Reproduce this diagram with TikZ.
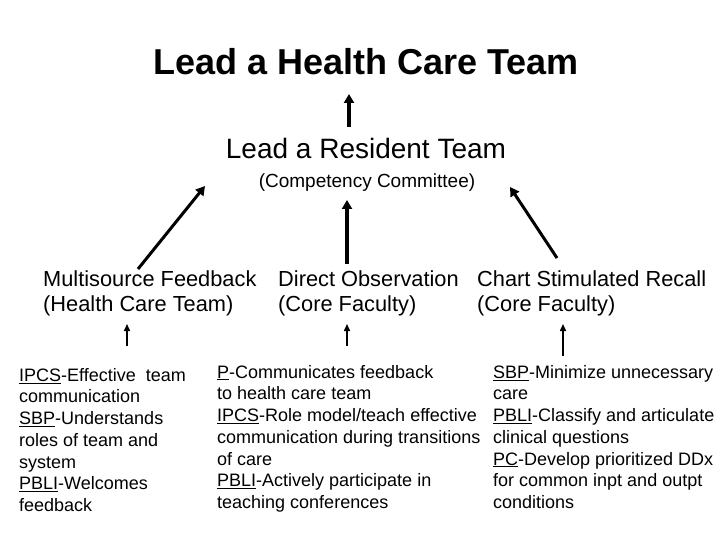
\documentclass[tikz,border=0pt]{standalone}
\usepackage{fontspec}
\setmainfont{Liberation Sans}
\usetikzlibrary{arrows.meta}
\newcommand{\ulx}[1]{\underline{#1}}
\begin{document}
\begin{tikzpicture}[x=1pt,y=-1pt,
  big/.style={font=\fontsize{19}{24}\selectfont,inner sep=0},
  head/.style={font=\fontsize{21.8}{25}\selectfont,anchor=north west,inner sep=0,align=left},
  small/.style={font=\fontsize{18}{21.7}\selectfont,anchor=north west,inner sep=0,align=left},
  thick arr/.style={line width=3.5pt,-{Triangle[length=9pt,width=10pt]}},
  thin arr/.style={line width=1.5pt,-{Triangle[length=7pt,width=6pt]}}]
\useasboundingbox (0,0) rectangle (720,540);
\node[font=\bfseries\fontsize{36}{40}\selectfont,inner sep=0] (title) at (366,62) {Lead a Health Care Team};
\node[font=\fontsize{28}{32}\selectfont,inner sep=0] (res) at (366,148) {Lead a Resident Team};
\node[big] (cc) at (367,183) {(Competency Committee)};
\node[head] (msf) at (43,271) {Multisource Feedback\\(Health Care Team)};
\node[head] (dob) at (278,271) {Direct Observation\\(Core Faculty)};
\node[head] (csr) at (477,271) {Chart Stimulated Recall\\(Core Faculty)};
\node[small] (l) at (19,368) {\ulx{IPCS}-Effective\ \ team\\communication\\\ulx{SBP}-Understands\\roles of team and\\system\\\ulx{PBLI}-Welcomes\\feedback};
\node[small] (m) at (217,365) {\ulx{P}-Communicates feedback\\to health care team\\\ulx{IPCS}-Role model/teach effective\\communication during transitions\\of care\\\ulx{PBLI}-Actively participate in\\teaching conferences};
\node[small] (r) at (493,365) {\ulx{SBP}-Minimize unnecessary\\care\\\ulx{PBLI}-Classify and articulate\\clinical questions\\\ulx{PC}-Develop prioritized DDx\\for common inpt and outpt\\conditions};
\coordinate (a1) at (349,127); \coordinate (a2) at (349,94);
\draw[thick arr] (a1) -- (a2);
\coordinate (b1) at (138,269); \coordinate (b2) at (205,186);
\draw[line width=3pt,-{Triangle[length=9pt,width=10pt]}] (b1) -- (b2);
\coordinate (c1) at (347,264); \coordinate (c2) at (347,200);
\draw[thick arr] (c1) -- (c2);
\coordinate (d1) at (557,258); \coordinate (d2) at (510,187);
\draw[line width=3pt,-{Triangle[length=9pt,width=10pt]}] (d1) -- (d2);
\coordinate (e1) at (127,346); \coordinate (e2) at (127,324);
\draw[thin arr] (e1) -- (e2);
\coordinate (f1) at (347,346); \coordinate (f2) at (347,324);
\draw[thin arr] (f1) -- (f2);
\coordinate (g1) at (563,356); \coordinate (g2) at (563,324);
\draw[thin arr] (g1) -- (g2);
\end{tikzpicture}
\end{document}
